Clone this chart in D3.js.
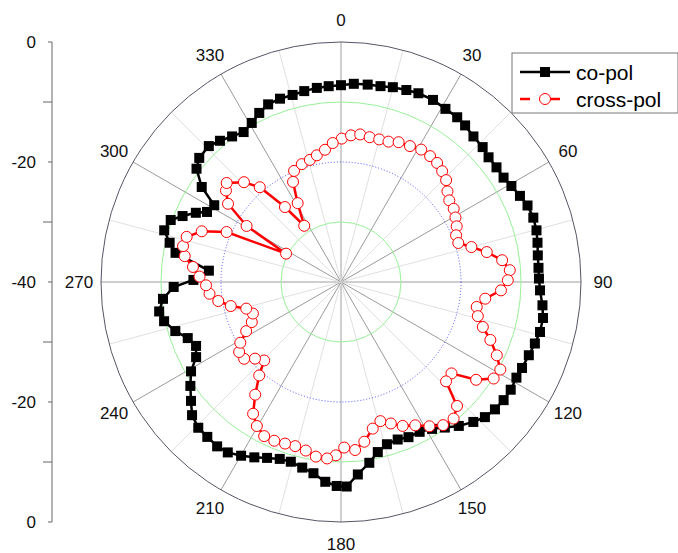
<!DOCTYPE html>
<html>
<head>
<meta charset="utf-8">
<script src="https://d3js.org/d3.v7.min.js"></script>
<style>
  body { margin: 0; background: #fff; font-family: Arial, "Liberation Sans", sans-serif; }
  svg { display: block; }
</style>
</head>
<body>
<svg id="chart"></svg>
<script>
// co-pol, angle in degrees and level in dB
let coAngles = [0, 3.7, 7.7, 11.4, 14.9, 18.8, 22.3, 26.8, 31.1, 35.2, 38.4, 42.3, 46.4, 49.8, 53.6, 57.3,
  60.6, 64.3, 67.7, 71.5, 75.2, 78.7, 82.3, 85.9, 89, 92.4, 96.6, 100.1, 104.1, 107.6, 111.3, 115.4,
  118.6, 122.4, 126, 129.6, 133.2, 136.6, 140.7, 144.5, 148.2, 152.3, 156.5, 160.2, 164.2, 167.8,
  171.1, 175, 178.4, 181.2, 184.5, 188.2, 191.8, 195.6, 199.1, 202.8, 206.3, 209.9, 213.6, 217,
  220.8, 224.4, 228.2, 231.6, 235.4, 239.2, 242.6, 246.2, 249.9, 253.5, 257.5, 260.8, 264.6, 268.3,
  270.8, 274.9, 280, 282.9, 286.3, 290, 292.6, 295.5, 297.6, 301.2, 304.3, 308.1, 311.2, 315.8,
  319.4, 323.2, 327, 330.7, 334.2, 337.7, 341.6, 345.5, 349.1, 352.9, 356.4]
let coValues = [-7.2, -6.9, -6.8, -6.7, -6.4, -6.2, -6.0, -6.0, -6.3, -6.4, -6.7, -7.2, -7.4, -7.8, -7.8, -7.8,
  -7.4, -6.9, -6.4, -6.2, -6.3, -6.6, -6.9, -7.0, -7.0, -6.8, -6.2, -5.8, -5.8, -6.1, -6.4, -6.6,
  -6.7, -6.5, -6.5, -6.7, -7.1, -7.9, -9.0, -10.2, -11.2, -11.8, -11.8, -12.1, -11.9, -11.0,
  -9.5, -7.8, -5.9, -6.0, -6.6, -7.8, -8.4, -8.9, -8.8, -8.2, -7.4, -6.6, -5.9, -5.7,
  -5.9, -6.0, -6.7, -8.1, -9.5, -10.9, -12.8, -13.6, -12.8, -11.2, -9.8, -9.3, -10.2, -12.1,
  -15.4, -17.9, -12.0, -10.7, -9.3, -9.8, -11.4, -13.2, -14.8, -15.3, -11.9, -9.4, -8.6, -8.4,
  -9.0, -9.7, -10.2, -9.6, -8.7, -8.0, -7.8, -7.8, -7.6, -7.4, -7.3]

// cross-pol
let crossAngles = [0.3, 3.9, 7.4, 11.2, 15, 18.7, 22.4, 26.9, 31.2, 35.3, 38.9, 42.4, 45.9, 49.6, 53, 57,
  60.6, 64.3, 67.9, 71.6, 75, 78.4, 82.3, 86, 89.4, 93, 96.6, 100.4, 104, 107.6, 111.2, 115.2,
  118.8, 122.3, 125.9, 129.6, 133.4, 136.9, 140.5, 144.5, 148.5, 152.6, 156.8, 160.6, 164.2, 167.8,
  171.7, 175.2, 178.9, 181.7, 184.5, 188.2, 191.8, 195.6, 199.1, 202.8, 206.5, 210.3, 213.7, 217.3,
  221.2, 224.4, 228.3, 231.6, 235.5, 238.9, 242.6, 245.8, 250.3, 254.3, 257.7, 261.2, 264.9, 268.6,
  272.2, 275.8, 279.4, 282.8, 286.3, 290, 293.6, 297.3, 300.7, 304.7, 308.5, 310.9, 315.8, 319.4,
  323.2, 326.8, 331.2, 334.4, 337.1, 341.6, 345.7, 349.2, 353.1, 356.6]
let crossValues = [-16.1, -15.5, -15.2, -15.4, -15.4, -15.3, -14.8, -14.6, -14.2, -14.3, -14.5, -15.0, -15.6, -16.7, -17.4, -17.6,
  -18.1, -18.6, -19.3, -19.4, -17.5, -15.2, -12.9, -11.8, -12.2, -13.3, -15.8, -17.0, -16.5, -15.2, -13.3, -11.3,
  -9.7, -9.9, -12.2, -16.1, -15.9, -11.7, -10.5, -10.7, -11.8, -13.1, -13.9, -15.0, -15.9, -15.0,
  -13.1, -11.9, -12.4, -11.1, -10.5, -10.6, -11.3, -11.6, -11.5, -11.3, -11.3, -12.2, -13.6, -16.4,
  -19.3, -21.7, -20.8, -19.4, -19.4, -20.4, -22.2, -23.7, -24.4, -23.6, -21.2, -19.3, -18.0, -17.5,
  -16.4, -15.2, -13.6, -13.0, -13.2, -15.3, -19.2, -29.7, -21.7, -17.1, -15.5, -14.8, -16.8, -19.2,
  -24.4, -28.8, -25.0, -21.5, -19.9, -19.3, -19.0, -18.5, -17.8, -16.8]

let ringLevels = [-30, -20, -10, 0]
let angleTicks = d3.range(0, 360, 30)
let radialLabels = [0, -20, -40, -20, 0]
let seriesNames = ["co-pol", "cross-pol"]

let width = 678, height = 553
let cx = 341, cy = 282, R = 240

let svg = d3.select("#chart").attr("width", width).attr("height", height)

let rScale = d3.scaleLinear().domain([-40, 0]).range([0, R])
let rad = a => a * Math.PI / 180
let px = (a, v) => cx + rScale(v) * Math.sin(rad(a))
let py = (a, v) => cy - rScale(v) * Math.cos(rad(a))

let co = coAngles.map((a, i) => ({ a, v: coValues[i] }))
let cross = crossAngles.map((a, i) => ({ a, v: crossValues[i] }))

// spokes every 15 degrees
let grid = svg.append("g")
grid.selectAll("line.spoke")
  .data(d3.range(0, 360, 15))
  .enter().append("line")
  .attr("x1", cx).attr("y1", cy)
  .attr("x2", d => px(d, 0)).attr("y2", d => py(d, 0))
  .attr("stroke", d => d % 90 === 0 ? "#cfcfcf" : (d % 30 === 0 ? "#9a9a9a" : "#e0e0e0"))
  .attr("stroke-width", d => d % 90 === 0 ? 2 : 1)

// rings
let ringStyle = {
  "-30": { stroke: "#98f098", dash: null },
  "-20": { stroke: "#5050ff", dash: "1,2" },
  "-10": { stroke: "#98f098", dash: null },
  "0": { stroke: "#555566", dash: null }
}
grid.selectAll("circle.ring")
  .data(ringLevels)
  .enter().append("circle")
  .attr("cx", cx).attr("cy", cy)
  .attr("r", d => rScale(d))
  .attr("fill", "none")
  .attr("stroke", d => ringStyle[d].stroke)
  .attr("stroke-dasharray", d => ringStyle[d].dash)
  .attr("stroke-width", 1)

// angle labels
svg.append("g").selectAll("text")
  .data(angleTicks)
  .enter().append("text")
  .attr("x", d => cx + 262 * Math.sin(rad(d)))
  .attr("y", d => cy - 262 * Math.cos(rad(d)))
  .attr("text-anchor", "middle")
  .attr("dominant-baseline", "central")
  .attr("font-size", 17)
  .attr("fill", "#111")
  .text(d => d)

// left radial axis: 0 .. -40 .. 0
let axisX = 52
let upper = d3.scaleLinear().domain([0, -40]).range([cy - R, cy])
let lower = d3.scaleLinear().domain([-40, 0]).range([cy, cy + R])
let axisG = svg.append("g").attr("transform", `translate(${axisX},0)`)
axisG.append("line").attr("x1", 0).attr("x2", 0).attr("y1", cy - R).attr("y2", cy + R)
  .attr("stroke", "#666")
let minorTicks = [-10, -30]
let tickPos = []
radialLabels.forEach((v, i) => tickPos.push({ y: i < 2 ? upper(v) : lower(v), label: v, major: true }))
minorTicks.forEach(v => {
  tickPos.push({ y: upper(v), major: false })
  tickPos.push({ y: lower(v), major: false })
})
axisG.selectAll("line.tick")
  .data(tickPos)
  .enter().append("line")
  .attr("x1", d => d.major ? -4 : -9).attr("x2", 0)
  .attr("y1", d => d.y).attr("y2", d => d.y)
  .attr("stroke", "#666")
axisG.selectAll("text")
  .data(tickPos.filter(d => d.major))
  .enter().append("text")
  .attr("x", -16)
  .attr("y", d => d.y)
  .attr("text-anchor", "end")
  .attr("dominant-baseline", "central")
  .attr("font-size", 17)
  .attr("fill", "#111")
  .text(d => d.label)

// series
let line = d3.lineRadial()
  .angle(d => rad(d.a))
  .radius(d => rScale(d.v))
  .curve(d3.curveLinearClosed)

let plot = svg.append("g").attr("transform", `translate(${cx},${cy})`)
plot.append("path").datum(co)
  .attr("d", line)
  .attr("fill", "none").attr("stroke", "#000").attr("stroke-width", 2.5)
plot.selectAll("rect.co")
  .data(co)
  .enter().append("rect")
  .attr("x", d => px(d.a, d.v) - cx - 5)
  .attr("y", d => py(d.a, d.v) - cy - 5)
  .attr("width", 10).attr("height", 10)
  .attr("fill", "#000")

plot.append("path").datum(cross)
  .attr("d", line)
  .attr("fill", "none").attr("stroke", "#ff0000").attr("stroke-width", 2.5)
plot.selectAll("circle.cross")
  .data(cross)
  .enter().append("circle")
  .attr("cx", d => px(d.a, d.v) - cx)
  .attr("cy", d => py(d.a, d.v) - cy)
  .attr("r", 5.5)
  .attr("fill", "#fff").attr("stroke", "#ff0000").attr("stroke-width", 1)

// legend
let legend = svg.append("g").attr("transform", "translate(512,53)")
legend.append("rect").attr("width", 166).attr("height", 60)
  .attr("fill", "#fff").attr("stroke", "#777")
let rows = legend.selectAll("g.row")
  .data(seriesNames)
  .enter().append("g")
  .attr("transform", (d, i) => `translate(0,${19 + i * 27})`)
rows.append("line")
  .attr("x1", 8).attr("x2", 58).attr("y1", 0).attr("y2", 0)
  .attr("stroke", (d, i) => i === 0 ? "#000" : "#ff0000")
  .attr("stroke-width", 2.5)
  .attr("stroke-dasharray", (d, i) => i === 0 ? null : "10,20")
rows.filter((d, i) => i === 0).append("rect")
  .attr("x", 28).attr("y", -5).attr("width", 10).attr("height", 10).attr("fill", "#000")
rows.filter((d, i) => i === 1).append("circle")
  .attr("cx", 33).attr("cy", 0).attr("r", 5.5)
  .attr("fill", "#fff").attr("stroke", "#ff0000")
rows.append("text")
  .attr("x", 64).attr("y", 0)
  .attr("dominant-baseline", "central")
  .attr("font-size", 21)
  .attr("fill", "#000")
  .text(d => d)
</script>
</body>
</html>
